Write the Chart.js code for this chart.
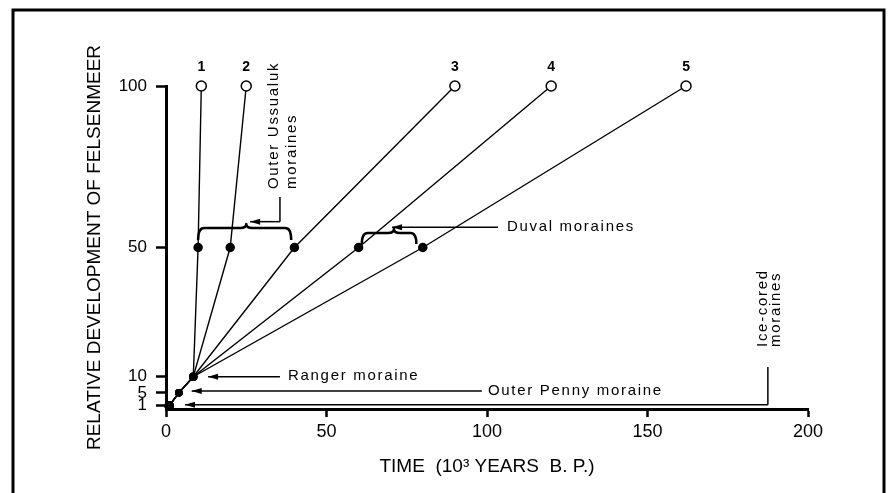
<!DOCTYPE html>
<html>
<head>
<meta charset="utf-8">
<script src="https://cdn.jsdelivr.net/npm/chart.js@4.4.1/dist/chart.umd.min.js"></script>
<style>
  html, body { margin: 0; padding: 0; background: #fff; }
  canvas { display: block; }
</style>
</head>
<body>
<canvas id="felsenmeerChart" width="888" height="493"></canvas>
<script>
// relative development of felsenmeer reached at each stage
const levels = [1, 5, 10, 50, 100];
// time (10^3 years B.P.) at which each curve reaches those levels
const curve1 = [1, 4, 8.5, 10, 11];
const curve2 = [1, 4, 8.5, 20, 25];
const curve3 = [1, 4, 8.5, 40, 90];
const curve4 = [1, 4, 8.5, 60, 120];
const curve5 = [1, 4, 8.5, 80, 162];
const curveNames = ['1', '2', '3', '4', '5'];
const xTicks = [0, 50, 100, 150, 200];
const yTicks = [1, 5, 10, 50, 100];

const curves = [curve1, curve2, curve3, curve4, curve5];

Chart.defaults.font.family = '"Liberation Sans", Arial, sans-serif';
Chart.defaults.color = '#000';

function arrow(ctx, x1, y1, x2, y2) {
    ctx.beginPath();
    ctx.moveTo(x1, y1);
    ctx.lineTo(x2, y2);
    ctx.stroke();
    const a = Math.atan2(y2 - y1, x2 - x1);
    ctx.beginPath();
    ctx.moveTo(x2, y2);
    ctx.lineTo(x2 - 10 * Math.cos(a) + 3 * Math.sin(a), y2 - 10 * Math.sin(a) - 3 * Math.cos(a));
    ctx.lineTo(x2 - 10 * Math.cos(a) - 3 * Math.sin(a), y2 - 10 * Math.sin(a) + 3 * Math.cos(a));
    ctx.closePath();
    ctx.fill();
}

function brace(ctx, x0, x1, yTop, drop, xm, rise) {
    const r = 6;
    ctx.beginPath();
    ctx.moveTo(x0, yTop + drop);
    ctx.quadraticCurveTo(x0, yTop, x0 + r, yTop);
    ctx.lineTo(xm - r, yTop);
    ctx.quadraticCurveTo(xm, yTop, xm, yTop - rise);
    ctx.quadraticCurveTo(xm, yTop, xm + r, yTop);
    ctx.lineTo(x1 - r, yTop);
    ctx.quadraticCurveTo(x1, yTop, x1, yTop + drop);
    ctx.stroke();
}

function vText(ctx, lines, x, y, gap) {
    ctx.save();
    ctx.translate(x, y);
    ctx.rotate(-Math.PI / 2);
    ctx.textAlign = 'left';
    ctx.textBaseline = 'alphabetic';
    lines.forEach((t, i) => ctx.fillText(t, 0, i * gap));
    ctx.restore();
}

const notes = {
    id: 'notes',
    beforeDraw(chart) {
        const { ctx } = chart;
        ctx.save();
        ctx.strokeStyle = '#000';
        ctx.lineWidth = 3;
        ctx.strokeRect(13, 10, 871, 500);
        ctx.restore();
    },
    afterDatasetsDraw(chart) {
        const { ctx, scales: { x, y } } = chart;
        const px = v => x.getPixelForValue(v);
        const py = v => y.getPixelForValue(v);
        ctx.save();
        ctx.fillStyle = '#000';
        ctx.strokeStyle = '#000';

        // curve numbers above the end circles
        ctx.font = 'bold 14px "Liberation Sans", Arial, sans-serif';
        ctx.textAlign = 'center';
        ctx.textBaseline = 'middle';
        curves.forEach((times, i) => {
            const last = times.length - 1;
            ctx.fillText(curveNames[i], px(times[last]), py(levels[last]) - 19);
        });

        // braces
        ctx.lineWidth = 2.5;
        ctx.lineJoin = 'round';
        brace(ctx, px(10), px(39), py(56), 12, px(25), 4);
        brace(ctx, px(61), px(78), py(54.5), 11, px(71), 4);

        // leaders
        ctx.lineWidth = 1.5;
        ctx.beginPath();
        ctx.moveTo(px(35.5), py(65.6));
        ctx.lineTo(px(35.5), py(58));
        ctx.stroke();
        arrow(ctx, px(35.5), py(58), px(26.2), py(58));
        arrow(ctx, px(103.4), py(56.3), px(70.4), py(56.3));
        arrow(ctx, px(35.5), py(10), px(13.1), py(10));
        arrow(ctx, px(98.4), py(5.6), px(8), py(5.6));
        ctx.beginPath();
        ctx.moveTo(px(187.5), py(13));
        ctx.lineTo(px(187.5), py(1.3));
        ctx.stroke();
        arrow(ctx, px(187.5), py(1.3), px(5.9), py(1.3));

        // labels
        ctx.font = '15px "Liberation Sans", Arial, sans-serif';
        ctx.letterSpacing = '1.7px';
        ctx.textAlign = 'left';
        ctx.textBaseline = 'middle';
        ctx.fillText('Duval moraines', px(106.2), py(56.3));
        ctx.fillText('Ranger moraine', px(38), py(10.2));
        ctx.fillText('Outer Penny moraine', px(100.3), py(5.6));
        vText(ctx, ['Outer Ussualuk', 'moraines'], px(34.9), py(68.1), 18);
        vText(ctx, ['Ice-cored', 'moraines'], px(187.2), py(19.2), 13);
        ctx.restore();
    }
};

new Chart(document.getElementById('felsenmeerChart'), {
    type: 'scatter',
    data: {
        datasets: curves.map((times, i) => ({
            label: curveNames[i],
            data: times.map((t, j) => ({ x: t, y: levels[j] })),
            showLine: true,
            clip: false,
            borderColor: '#000',
            borderWidth: 1.4,
            tension: 0,
            pointRadius: [4, 3, 3.5, 4, 5],
            pointBackgroundColor: ['#000', '#000', '#000', '#000', '#fff'],
            pointBorderColor: '#000',
            pointBorderWidth: 1.5
        }))
    },
    options: {
        responsive: false,
        animation: false,
        layout: { padding: { left: 79, top: 86, right: 80, bottom: 11 } },
        plugins: { legend: { display: false }, tooltip: { enabled: false } },
        scales: {
            x: {
                type: 'linear',
                min: 0, max: 200,
                afterBuildTicks: s => { s.ticks = xTicks.map(v => ({ value: v })); },
                afterFit: s => { s.height = 73; },
                ticks: { font: { size: 18 }, padding: 4, color: '#000' },
                grid: { drawOnChartArea: false, tickLength: 8, tickWidth: 2.5, tickColor: '#000' },
                border: { display: true, width: 3, color: '#000' },
                title: { display: true, text: 'TIME  (10³ YEARS  B. P.)', font: { size: 19 }, color: '#000' }
            },
            y: {
                type: 'linear',
                min: 0, max: 100,
                afterBuildTicks: s => { s.ticks = yTicks.map(v => ({ value: v })); },
                afterFit: s => { s.width = 87; },
                ticks: { font: { size: 17 }, padding: 9, color: '#000' },
                grid: { drawOnChartArea: false, tickLength: 10, tickWidth: 2.5, tickColor: '#000' },
                border: { display: true, width: 3, color: '#000' },
                title: { display: true, text: 'RELATIVE DEVELOPMENT OF FELSENMEER', font: { size: 19 }, color: '#000' }
            }
        }
    },
    plugins: [notes]
});
</script>
</body>
</html>
